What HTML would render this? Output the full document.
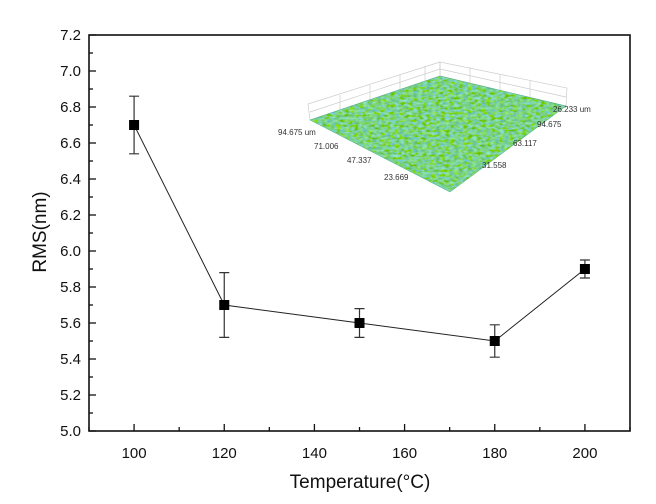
<!DOCTYPE html>
<html><head><meta charset="utf-8"><style>
body{margin:0;background:#fff;}
svg{display:block;font-family:"Liberation Sans",Arial,sans-serif;}
</style></head><body>
<svg id="chart" width="656" height="504" viewBox="0 0 656 504">
<defs>
<filter id="mottle" x="0" y="0" width="100%" height="100%">
<feTurbulence type="fractalNoise" baseFrequency="0.22 0.4" numOctaves="2" seed="4"/>
<feColorMatrix type="matrix" values="0.3 0 0 0 0.05  0.5 0 0 0 0.4  0 -1.2 0.8 0 0.45  0 0 0 0 1"/>
</filter>
<clipPath id="surfclip"><polygon points="310,120 440,76 566,106 450,192"/></clipPath>
</defs>
<g id="inset">
<g stroke="#ccc" stroke-width="0.7" fill="none">
<polygon points="310,120 440,76 440,62 308,104"/>
<polygon points="440,76 566,106 567,88 440,62"/>
<path d="M340,110 v-15 M370,100 v-15 M400,90 v-15 M425,81 v-15 M470,83 v-16 M500,90 v-16 M530,97 v-16 M310,112 L440,69 L566,97"/>
</g>
<rect x="300" y="70" width="275" height="130" filter="url(#mottle)" clip-path="url(#surfclip)"/>
<polygon points="310,120 440,76 566,106 450,192" fill="none" stroke="#4a8" stroke-width="0.5"/>
<g font-size="8" fill="#333">
<text x="278" y="135">94.675 um</text>
<text x="314" y="149">71.006</text>
<text x="347" y="163">47.337</text>
<text x="384" y="180">23.669</text>
<text x="553" y="112">26.233 um</text>
<text x="537" y="127">94.675</text>
<text x="513" y="146">63.117</text>
<text x="482" y="168">31.558</text>
</g>
</g>
<g id="axes"></g>
<g id="marks"></g>
<text x="360" y="488" font-size="19" text-anchor="middle" fill="#111">Temperature(°C)</text>
<text transform="translate(46,232) rotate(-90)" font-size="19" text-anchor="middle" fill="#111">RMS(nm)</text>
</svg>
<script>
const temps=[100,120,150,180,200];
const rms=[6.70,5.70,5.60,5.50,5.90];
const errs=[0.16,0.18,0.08,0.09,0.05];
const xTicks=[100,120,140,160,180,200];
const yTicks=[5.0,5.2,5.4,5.6,5.8,6.0,6.2,6.4,6.6,6.8,7.0,7.2];
const L=89,R=630,T=35,B=431;
const x=v=>L+(v-90)/(210-90)*(R-L);
const y=v=>B-(v-5.0)/(7.2-5.0)*(B-T);
const NS="http://www.w3.org/2000/svg";
function mk(tag,attrs,parent){const e=document.createElementNS(NS,tag);for(const k in attrs)e.setAttribute(k,attrs[k]);parent.appendChild(e);return e;}
const ax=document.getElementById('axes');
const frame=mk('rect',{x:L,y:T,width:R-L,height:B-T,fill:'none',stroke:'#111','stroke-width':1.6},ax);


for(let v=90;v<=210;v+=10){const major=(v%20===0);
 const t=mk('line',{x1:x(v),x2:x(v),y1:B,y2:B-(major?7:4),stroke:'#111','stroke-width':1.3},ax);
 
 }
xTicks.forEach(v=>{const t=mk('text',{x:x(v),y:B+27,'font-size':15,'text-anchor':'middle',fill:'#111'},ax);t.textContent=v;
 
 });
for(let i=0;i<=22;i++){const v=5+i*0.1;const major=(i%2===0);
 const t=mk('line',{x1:L,x2:L+(major?7:4),y1:y(v),y2:y(v),stroke:'#111','stroke-width':1.3},ax);
 
 }
yTicks.forEach(v=>{const t=mk('text',{x:L-8,y:y(v)+5,'font-size':15,'text-anchor':'end',fill:'#111'},ax);t.textContent=v.toFixed(1);
 
 });
const mg=document.getElementById('marks');
const line=mk('polyline',{points:temps.map((t,i)=>x(t)+','+y(rms[i])).join(' '),fill:'none',stroke:'#222','stroke-width':1},mg);


temps.forEach((t,i)=>{const cx=x(t),cy=y(rms[i]),t1=y(rms[i]+errs[i]),b1=y(rms[i]-errs[i]);
 const e=mk('path',{d:`M${cx},${t1}V${b1}M${cx-5},${t1}H${cx+5}M${cx-5},${b1}H${cx+5}`,stroke:'#333','stroke-width':1.2,fill:'none'},mg);
 
 
 const p=mk('rect',{x:cx-5,y:cy-5,width:10,height:10,fill:'#000'},mg);
 
 });
</script>
</body></html>
